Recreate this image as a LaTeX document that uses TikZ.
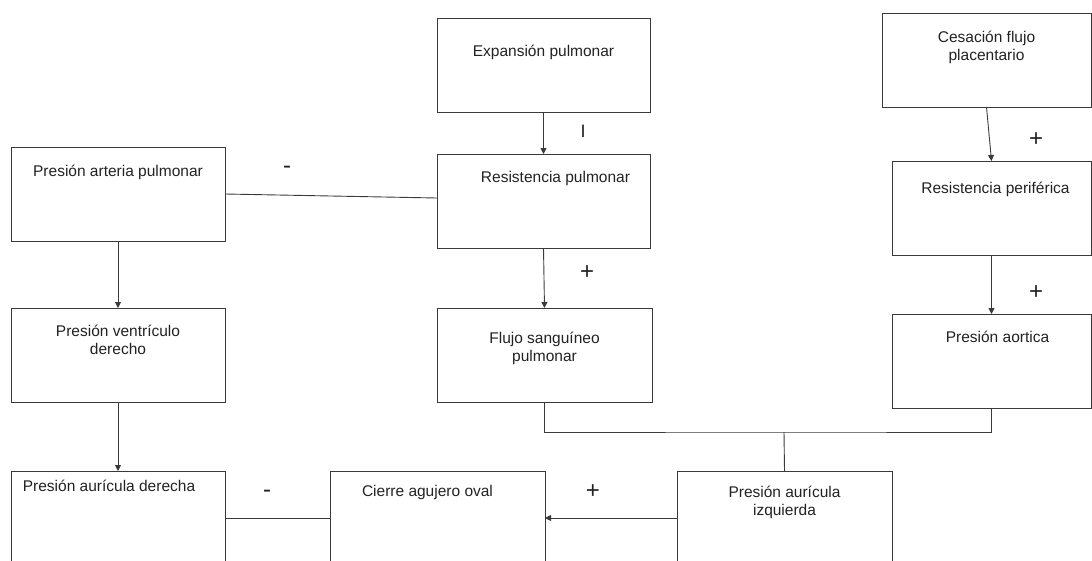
\documentclass[tikz,border=0pt]{standalone}
\usepackage{fontspec}
\setmainfont{Liberation Sans}
\usetikzlibrary{arrows.meta,positioning}
\definecolor{linegray}{HTML}{3A3A3A}
\definecolor{textgray}{HTML}{222222}

\begin{document}
\begin{tikzpicture}[
  x=1pt, y=-1pt,
  box/.style={draw=linegray, line width=0.9pt, rectangle, anchor=north west, minimum width=214pt, minimum height=94pt, inner sep=0pt, outer sep=0pt},
  boxtext/.style={font=\fontsize{15.5}{18.5}\selectfont, text=textgray, align=center, anchor=base, inner sep=0pt},
  sign/.style={font=\fontsize{24}{24}\selectfont, text=textgray},
  arrow/.style={-{Triangle[length=6pt,width=6pt]}, line width=0.9pt, draw=linegray},
  link/.style={line width=0.9pt, draw=linegray}
]
\useasboundingbox (0,0) rectangle (1092,560);
\clip (0,0) rectangle (1092,560);

% left column
\node[box, label={[boxtext, yshift=-29pt]north:Presión arteria pulmonar}] (arteria) at (11,147) {};
\node[box, label={[boxtext, yshift=-46.5pt]north:Presión ventrículo\\derecho}] (ventriculo) at (11,308) {};
\node[box, label={[boxtext, xshift=-9pt, yshift=-20pt]north:Presión aurícula derecha}] (auriculader) at (11,471) {};

% middle column
\node[box, minimum width=213pt, label={[boxtext, yshift=-38pt]north:Expansión pulmonar}] (expansion) at (437,18) {};
\node[box, minimum width=213pt, label={[boxtext, xshift=12pt, yshift=-28pt]north:Resistencia pulmonar}] (resistencia) at (437,154) {};
\node[box, minimum width=215pt, label={[boxtext, yshift=-53.5pt]north:Flujo sanguíneo\\pulmonar}] (flujo) at (437,308) {};
\node[box, minimum width=215pt, label={[boxtext, xshift=-10pt, yshift=-25pt]north:Cierre agujero oval}] (cierre) at (330,471) {};
\node[box, minimum width=215pt, label={[boxtext, yshift=-44.5pt]north:Presión aurícula\\izquierda}] (auriculaizq) at (677,471) {};

% right column
\node[box, minimum width=209pt, label={[boxtext, yshift=-47.5pt]north:Cesación flujo\\placentario}] (cesacion) at (882,13) {};
\node[box, minimum width=199pt, label={[boxtext, xshift=4pt, yshift=-32pt]north:Resistencia periférica}] (periferica) at (892,161) {};
\node[box, minimum width=199pt, label={[boxtext, xshift=6pt, yshift=-28pt]north:Presión aortica}] (aortica) at (892,314) {};

% connectors
\draw[arrow] (expansion.south) -- (resistencia.north);
\draw[arrow] (resistencia.south) -- (flujo.north);
\draw[arrow] (arteria.south) -- (ventriculo.north);
\draw[arrow] (ventriculo.south) -- (auriculader.north);
\draw[arrow] (cesacion.south) -- (periferica.north);
\draw[arrow] (periferica.south) -- (aortica.north);
\draw[link] (arteria.east) -- ([yshift=3pt]resistencia.west);
\draw[link] (auriculader.east) -- (cierre.west);
\draw[arrow] (auriculaizq.west) -- (cierre.east);
\coordinate (merge) at (784,432);
\draw[link] (flujo.south) |- (merge) -| (aortica.south);
\draw[link] (merge) -- (auriculaizq.north);

% signs
\node[sign, font=\fontsize{18}{18}\selectfont] (s1) at (583,131) {I};
\node[sign] (s2) at (287,170) {-};
\node[sign] (s3) at (587,273) {+};
\node[sign] (s4) at (1036,140) {+};
\node[sign] (s5) at (1036,293) {+};
\node[sign] (s6) at (267,494) {-};
\node[sign] (s7) at (593,492) {+};
\end{tikzpicture}
\end{document}
